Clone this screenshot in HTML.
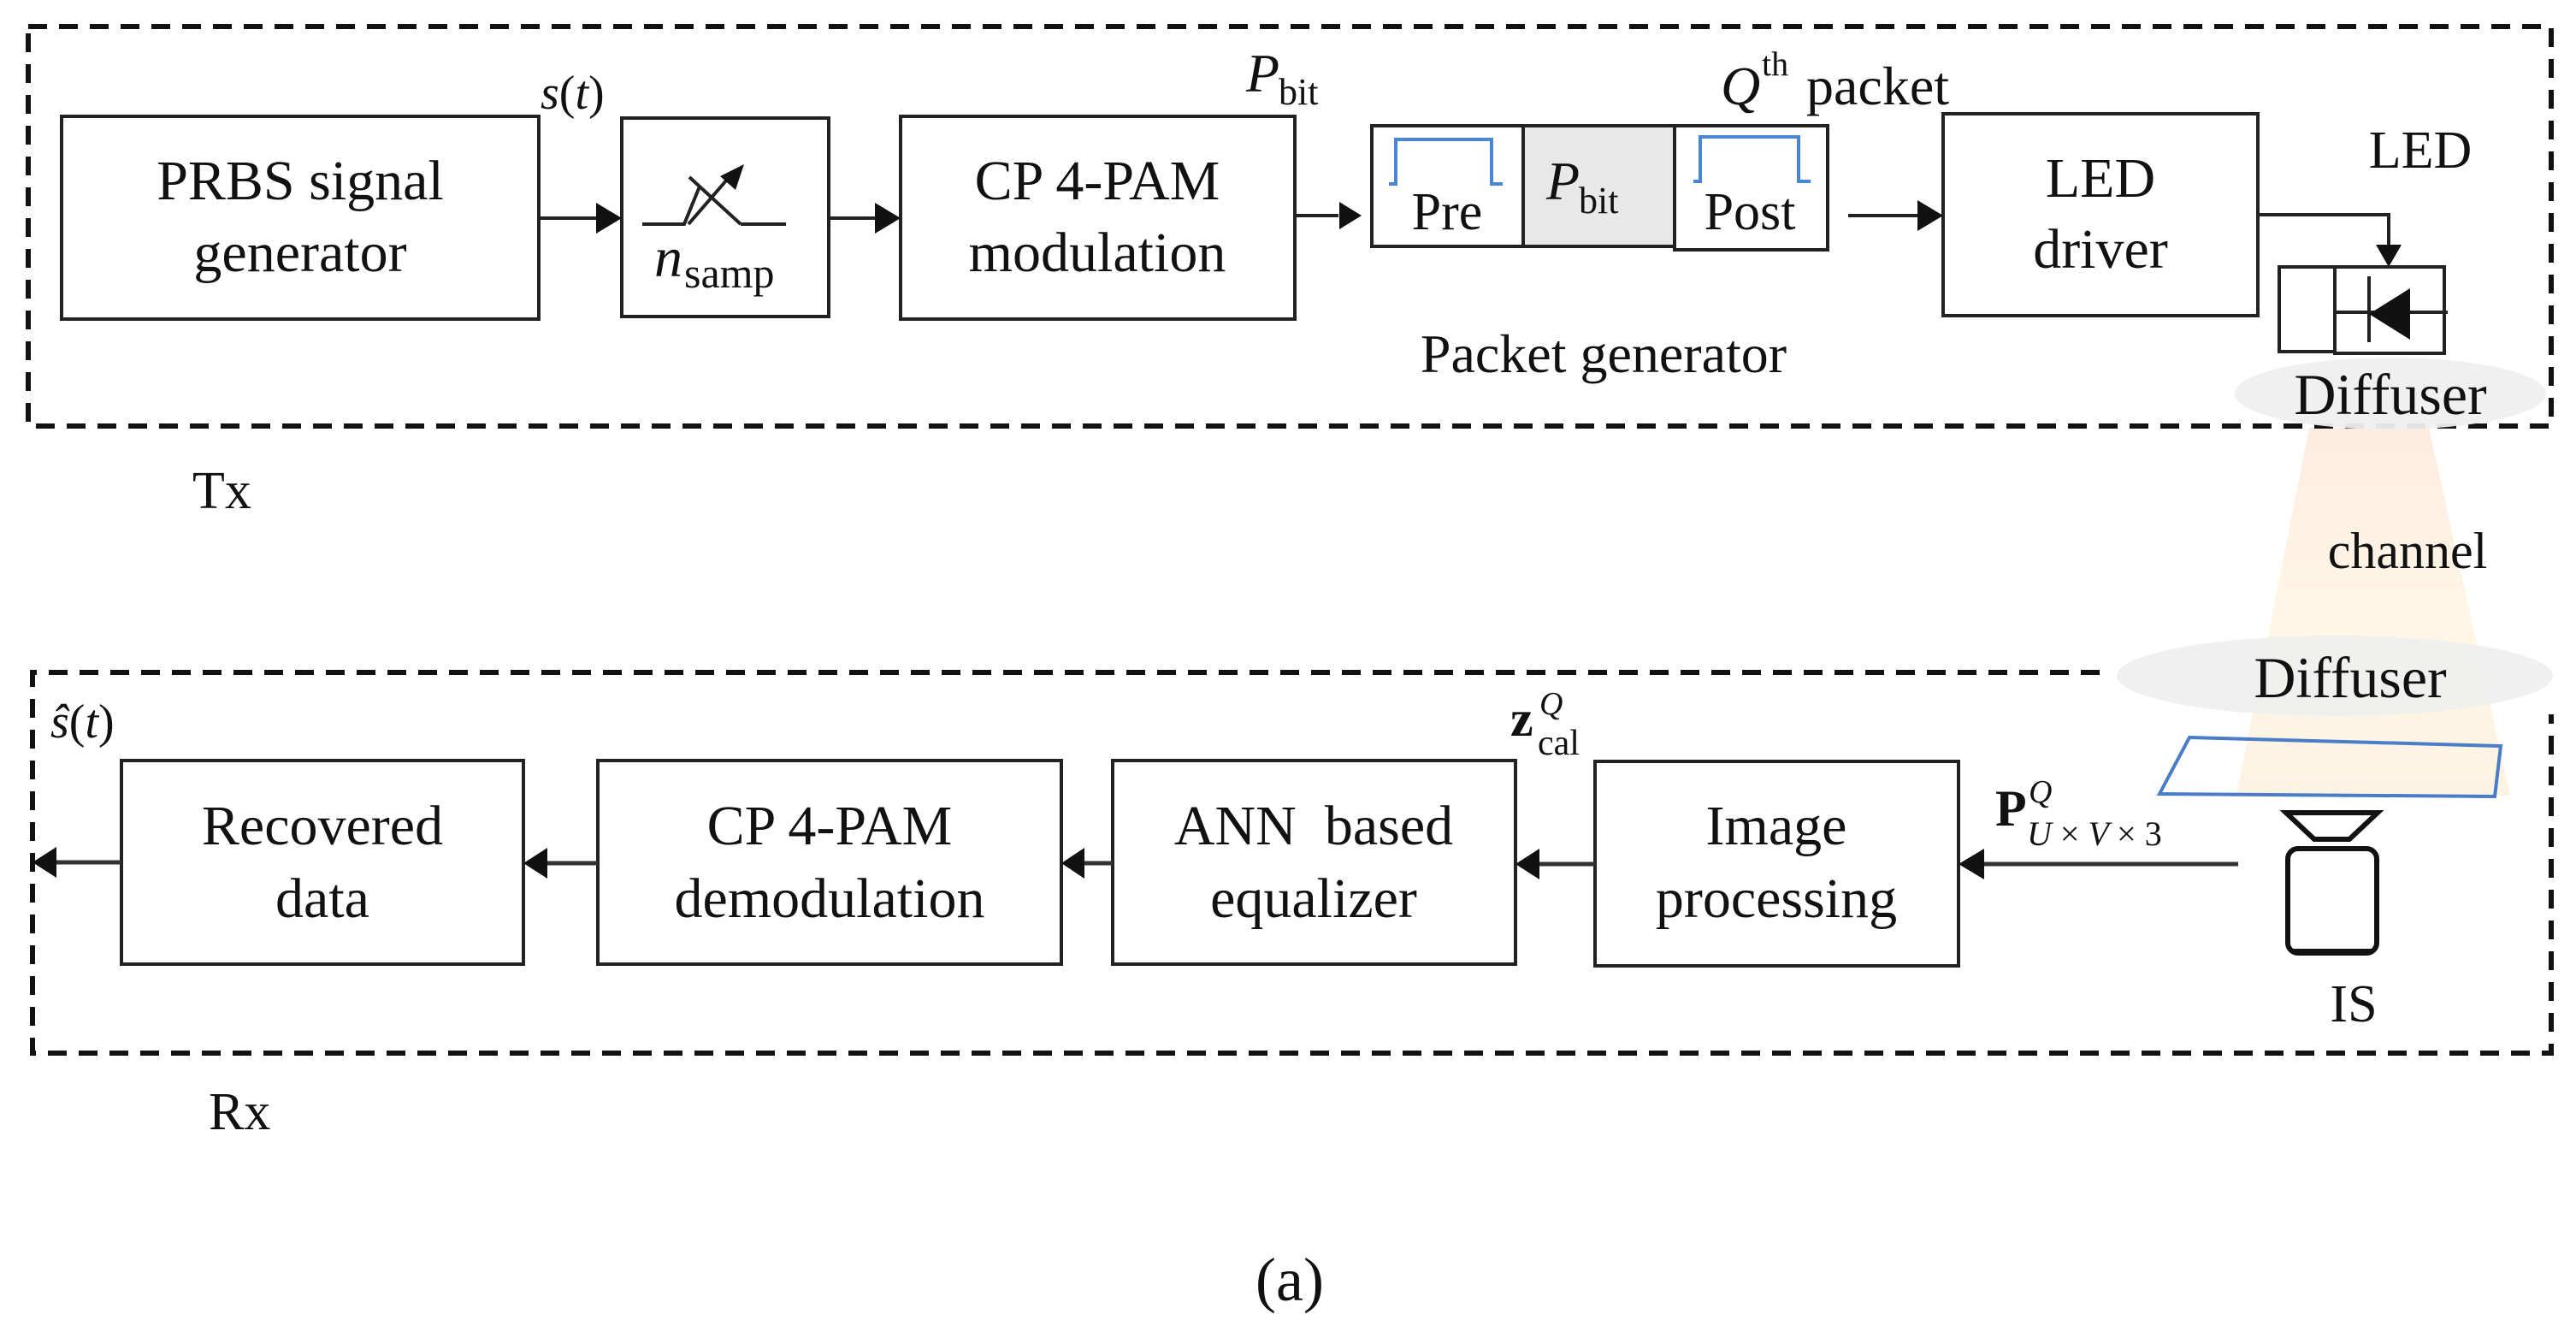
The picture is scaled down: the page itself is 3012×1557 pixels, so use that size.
<!DOCTYPE html>
<html><head><meta charset="utf-8"><style>
html,body{margin:0;padding:0;background:#fff;}
svg{display:block;}
text{font-family:"Liberation Serif",serif;fill:#111;}
</style></head><body>
<svg width="3012" height="1557" viewBox="0 0 3012 1557" xmlns="http://www.w3.org/2000/svg">
<defs>
<linearGradient id="beam" x1="0" y1="0" x2="0" y2="1">
<stop offset="0" stop-color="#fdece0"/>
<stop offset="0.5" stop-color="#fff6e6"/>
<stop offset="1" stop-color="#fdf3e2"/>
</linearGradient>
</defs>

<polygon points="2700,500 2840,500 2935,930 2615,930" fill="url(#beam)"/>

<rect x="33" y="31" width="2950" height="467" fill="none" stroke="#111" stroke-width="6" stroke-dasharray="22 14"/>
<path d="M2455,786 L38,786 L38,1231 L2983,1231 L2983,835" fill="none" stroke="#111" stroke-width="6" stroke-dasharray="22 14"/>

<ellipse cx="2795" cy="460" rx="182" ry="42" fill="#efefef" opacity="0.95"/>
<ellipse cx="2730" cy="790" rx="255" ry="47" fill="#efefef" opacity="0.95"/>
<text x="2795" y="484" font-size="68" text-anchor="middle">Diffuser</text>
<text x="2748" y="815" font-size="68" text-anchor="middle">Diffuser</text>
<text x="2815" y="664" font-size="60" text-anchor="middle">channel</text>

<g fill="none" stroke="#222" stroke-width="4">
<rect x="72" y="136" width="558" height="237"/>
<rect x="727" y="138" width="242" height="232"/>
<rect x="1053" y="136" width="461" height="237"/>
<rect x="2272" y="133" width="368" height="236"/>
<rect x="142" y="889" width="470" height="238"/>
<rect x="699" y="889" width="542" height="238"/>
<rect x="1301" y="889" width="471" height="238"/>
<rect x="1865" y="890" width="425" height="239"/>
</g>

<rect x="1781" y="147" width="177" height="141" fill="#e8e8e8"/>
<g fill="none" stroke="#222" stroke-width="4">
<rect x="1604" y="147" width="177" height="141"/>
<rect x="1781" y="147" width="177" height="141"/>
<rect x="1958" y="147" width="179" height="145"/>
</g>
<g fill="none" stroke="#4a86d8" stroke-width="4">
<polyline points="1624,215 1632,215 1632,163 1744,163 1744,215 1757,215"/>
<polyline points="1980,212 1988,212 1988,160 2103,160 2103,212 2117,212"/>
</g>

<g stroke="#222" stroke-width="4" fill="none">
<line x1="630" y1="255" x2="700" y2="255"/>
<line x1="969" y1="255" x2="1028" y2="255"/>
<line x1="1514" y1="252" x2="1565" y2="252"/>
<line x1="2161" y1="252" x2="2245" y2="252"/>
<polyline points="2640,251 2793,251 2793,290"/>
<polyline points="751,262 800,262 818,218"/>
<line x1="806" y1="207" x2="866" y2="262"/>
<line x1="866" y1="262" x2="919" y2="262"/>
<line x1="805" y1="262" x2="850" y2="210"/>
</g>
<g fill="#111">
<polygon points="727,255 697,237 697,273"/>
<polygon points="1053,255 1023,237 1023,273"/>
<polygon points="1592,252 1566,236 1566,268"/>
<polygon points="2272,252 2242,234 2242,270"/>
<polygon points="2793,312 2778,286 2808,286"/>
<polygon points="870,192 842,206 860,222"/>
</g>

<g fill="none" stroke="#222" stroke-width="4">
<rect x="2665" y="312" width="65" height="99"/>
<rect x="2730" y="312" width="128" height="101"/>
<line x1="2730" y1="365" x2="2862" y2="365"/>
<line x1="2770" y1="323" x2="2770" y2="400"/>
</g>
<polygon points="2770,367 2818,337 2818,397" fill="#111"/>

<g stroke="#333" stroke-width="5" fill="none">
<line x1="2617" y1="1010" x2="2318" y2="1010"/>
<line x1="1865" y1="1010" x2="1798" y2="1010"/>
<line x1="1301" y1="1009" x2="1266" y2="1009"/>
<line x1="699" y1="1009" x2="640" y2="1009"/>
<line x1="142" y1="1008" x2="66" y2="1008"/>
</g>
<g fill="#111">
<polygon points="2290,1010 2320,992 2320,1028"/>
<polygon points="1772,1010 1800,992 1800,1028"/>
<polygon points="1241,1009 1268,991 1268,1027"/>
<polygon points="612,1009 640,991 640,1027"/>
<polygon points="38,1008 66,990 66,1026"/>
</g>

<polygon points="2560,862 2924,872 2917,931 2525,928" fill="none" stroke="#4a7cc8" stroke-width="4"/>
<polygon points="2673,950 2780,950 2747,981 2706,981" fill="none" stroke="#111" stroke-width="6"/>
<rect x="2675" y="992" width="104" height="122" rx="12" fill="none" stroke="#111" stroke-width="6"/>
<line x1="2680" y1="1112" x2="2774" y2="1112" stroke="#111" stroke-width="6"/>

<text x="351" y="233" font-size="66" text-anchor="middle">PRBS signal</text>
<text x="351" y="317" font-size="66" text-anchor="middle">generator</text>
<text x="632" y="127" font-size="56"><tspan font-style="italic">s</tspan>(<tspan font-style="italic">t</tspan>)</text>
<text x="765" y="323" font-size="66" font-style="italic">n</text>
<text x="800" y="336" font-size="50">samp</text>
<text x="1283" y="233" font-size="66" text-anchor="middle">CP 4-PAM</text>
<text x="1283" y="317" font-size="66" text-anchor="middle">modulation</text>
<text x="1457" y="107" font-size="64" font-style="italic">P</text>
<text x="1495" y="122" font-size="44">bit</text>
<text x="1692" y="268" font-size="62" text-anchor="middle">Pre</text>
<text x="1808" y="233" font-size="64" font-style="italic">P</text>
<text x="1846" y="249" font-size="44">bit</text>
<text x="2046" y="268" font-size="62" text-anchor="middle">Post</text>
<text x="2012" y="122" font-size="64" font-style="italic">Q</text>
<text x="2060" y="88" font-size="40">th</text>
<text x="2112" y="122" font-size="64">packet</text>
<text x="1875" y="435" font-size="64" text-anchor="middle">Packet generator</text>
<text x="2456" y="230" font-size="66" text-anchor="middle">LED</text>
<text x="2456" y="313" font-size="66" text-anchor="middle">driver</text>
<text x="2830" y="196" font-size="62" text-anchor="middle">LED</text>
<text x="225" y="594" font-size="62">Tx</text>

<text x="59" y="862" font-size="56"><tspan font-style="italic">ŝ</tspan>(<tspan font-style="italic">t</tspan>)</text>
<text x="377" y="987" font-size="66" text-anchor="middle">Recovered</text>
<text x="377" y="1072" font-size="66" text-anchor="middle">data</text>
<text x="970" y="987" font-size="66" text-anchor="middle">CP 4-PAM</text>
<text x="970" y="1072" font-size="66" text-anchor="middle">demodulation</text>
<text x="1536" y="987" font-size="66" text-anchor="middle" xml:space="preserve">ANN  based</text>
<text x="1536" y="1072" font-size="66" text-anchor="middle">equalizer</text>
<text x="2077" y="987" font-size="66" text-anchor="middle">Image</text>
<text x="2077" y="1072" font-size="66" text-anchor="middle">processing</text>
<text x="1766" y="860" font-size="60" font-weight="bold">z</text>
<text x="1798" y="882" font-size="42">cal</text>
<text x="1800" y="835" font-size="38" font-style="italic">Q</text>
<text x="2333" y="965" font-size="60" font-weight="bold">P</text>
<text x="2372" y="938" font-size="38" font-style="italic">Q</text>
<text x="2370" y="988" font-size="40" font-style="italic">U <tspan font-style="normal">×</tspan> V <tspan font-style="normal">× 3</tspan></text>
<text x="2752" y="1194" font-size="62" text-anchor="middle">IS</text>
<text x="244" y="1320" font-size="62">Rx</text>
<text x="1508" y="1520" font-size="72" text-anchor="middle">(a)</text>
</svg>
</body></html>
